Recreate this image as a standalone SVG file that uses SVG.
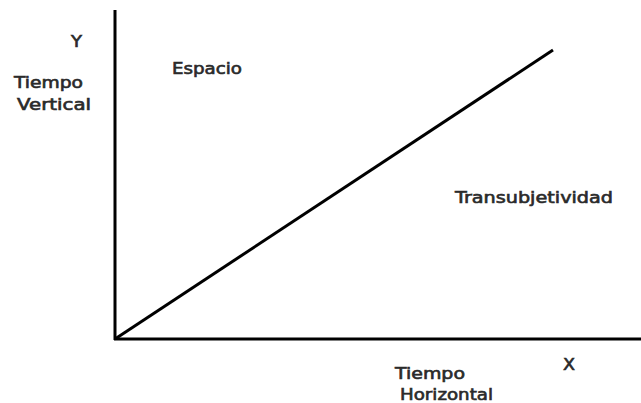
<svg xmlns="http://www.w3.org/2000/svg" width="641" height="403" viewBox="0 0 641 403">
<style>
text{font-family:"DejaVu Sans","Liberation Sans",sans-serif;font-size:15px;fill:#2a2a2a;stroke:#2a2a2a;stroke-width:0.6;}
.ax{stroke:#000;stroke-width:3;fill:none;}
</style>
<rect width="641" height="403" fill="#fff"/>
<g id="connectors">
<line class="ax" x1="115" y1="10" x2="115" y2="340"/>
<line class="ax" x1="114" y1="339" x2="641" y2="339"/>
<line class="ax" x1="115" y1="339" x2="553" y2="50"/>
</g>
<g id="label-y"><text x="71" y="47" textLength="11" lengthAdjust="spacingAndGlyphs">Y</text></g>
<g id="label-tiempo-vertical">
<text x="14" y="88" textLength="69" lengthAdjust="spacingAndGlyphs">Tiempo</text>
<text x="17" y="110" textLength="74" lengthAdjust="spacingAndGlyphs">Vertical</text>
</g>
<g id="label-espacio"><text x="172" y="74" textLength="70" lengthAdjust="spacingAndGlyphs">Espacio</text></g>
<g id="label-transubjetividad"><text x="455" y="203" textLength="158" lengthAdjust="spacingAndGlyphs">Transubjetividad</text></g>
<g id="label-x"><text x="563" y="370" textLength="12" lengthAdjust="spacingAndGlyphs">X</text></g>
<g id="label-tiempo-horizontal">
<text x="395" y="379" textLength="70" lengthAdjust="spacingAndGlyphs">Tiempo</text>
<text x="400" y="400" textLength="93" lengthAdjust="spacingAndGlyphs">Horizontal</text>
</g>
</svg>
